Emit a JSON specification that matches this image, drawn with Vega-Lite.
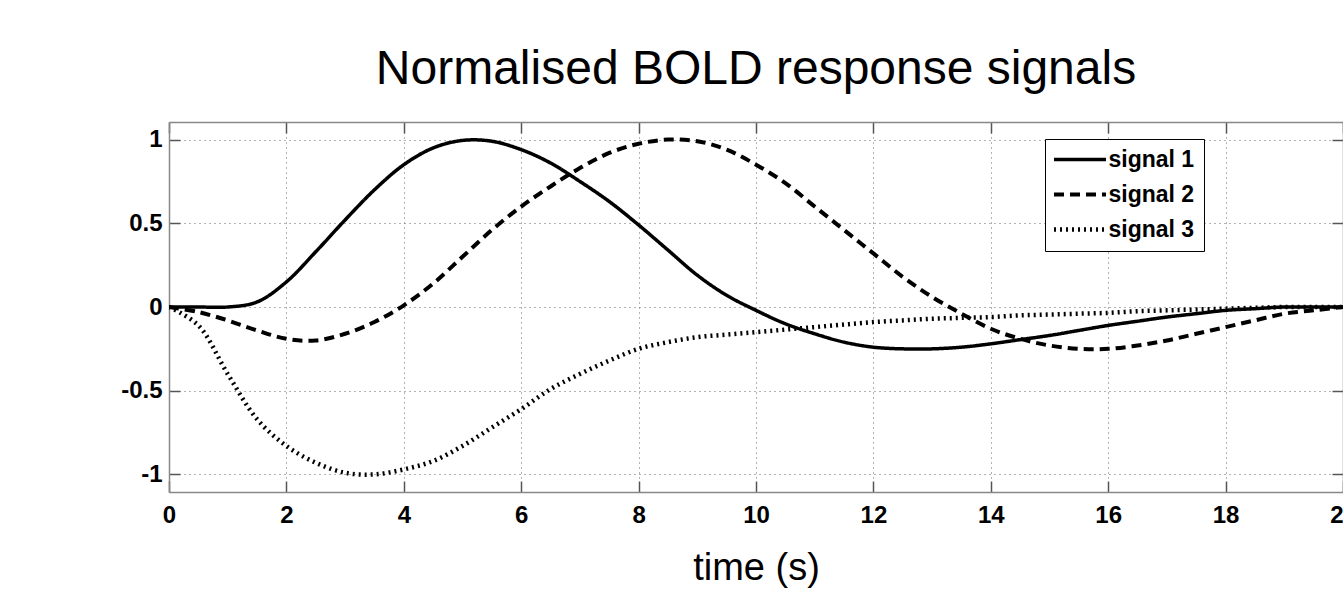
{
  "$schema": "https://vega.github.io/schema/vega-lite/v6.json",
  "autosize": {"type": "none"},
  "padding": {"left": 169, "top": 122, "right": 0, "bottom": 105},
  "width": 1174,
  "height": 370,
  "background": "white",
  "title": {
    "text": "Normalised BOLD response signals",
    "font": "Liberation Sans",
    "fontSize": 48,
    "fontWeight": "normal",
    "color": "black",
    "anchor": "middle",
    "baseline": "alphabetic",
    "frame": "group",
    "offset": -11
  },
  "config": {
    "font": "Liberation Sans",
    "view": {"stroke": null},
    "axis": {
      "domainColor": "#888888",
      "domainWidth": 1.5,
      "tickColor": "#555555",
      "tickWidth": 1.5,
      "tickSize": -11,
      "gridColor": "#666666",
      "gridDash": [1, 4],
      "gridWidth": 1,
      "labelFont": "Liberation Sans",
      "labelFontWeight": "bold",
      "labelFontSize": 24,
      "labelColor": "black"
    }
  },
  "data": {
    "values": [
      {"t": 0, "v": 0, "signal": "signal 1"}, {"t": 0.5, "v": 0, "signal": "signal 1"}, {"t": 1, "v": 0, "signal": "signal 1"}, {"t": 1.5, "v": 0.03, "signal": "signal 1"}, {"t": 2, "v": 0.15, "signal": "signal 1"}, {"t": 2.5, "v": 0.33, "signal": "signal 1"}, {"t": 3, "v": 0.52, "signal": "signal 1"}, {"t": 3.5, "v": 0.7, "signal": "signal 1"}, {"t": 4, "v": 0.85, "signal": "signal 1"}, {"t": 4.5, "v": 0.95, "signal": "signal 1"}, {"t": 5, "v": 0.995, "signal": "signal 1"}, {"t": 5.5, "v": 0.99, "signal": "signal 1"}, {"t": 6, "v": 0.94, "signal": "signal 1"}, {"t": 6.5, "v": 0.86, "signal": "signal 1"}, {"t": 7, "v": 0.75, "signal": "signal 1"}, {"t": 7.5, "v": 0.63, "signal": "signal 1"}, {"t": 8, "v": 0.49, "signal": "signal 1"}, {"t": 8.5, "v": 0.34, "signal": "signal 1"}, {"t": 9, "v": 0.19, "signal": "signal 1"}, {"t": 9.5, "v": 0.07, "signal": "signal 1"}, {"t": 10, "v": -0.02, "signal": "signal 1"}, {"t": 10.5, "v": -0.1, "signal": "signal 1"}, {"t": 11, "v": -0.16, "signal": "signal 1"}, {"t": 11.5, "v": -0.21, "signal": "signal 1"}, {"t": 12, "v": -0.24, "signal": "signal 1"}, {"t": 12.5, "v": -0.25, "signal": "signal 1"}, {"t": 13, "v": -0.25, "signal": "signal 1"}, {"t": 13.5, "v": -0.24, "signal": "signal 1"}, {"t": 14, "v": -0.22, "signal": "signal 1"}, {"t": 14.5, "v": -0.195, "signal": "signal 1"}, {"t": 15, "v": -0.17, "signal": "signal 1"}, {"t": 15.5, "v": -0.14, "signal": "signal 1"}, {"t": 16, "v": -0.11, "signal": "signal 1"}, {"t": 16.5, "v": -0.085, "signal": "signal 1"}, {"t": 17, "v": -0.06, "signal": "signal 1"}, {"t": 17.5, "v": -0.04, "signal": "signal 1"}, {"t": 18, "v": -0.02, "signal": "signal 1"}, {"t": 18.5, "v": -0.01, "signal": "signal 1"}, {"t": 19, "v": 0, "signal": "signal 1"}, {"t": 19.5, "v": 0, "signal": "signal 1"}, {"t": 20, "v": 0, "signal": "signal 1"},
      {"t": 0, "v": 0, "signal": "signal 2"}, {"t": 0.5, "v": -0.03, "signal": "signal 2"}, {"t": 1, "v": -0.08, "signal": "signal 2"}, {"t": 1.5, "v": -0.14, "signal": "signal 2"}, {"t": 2, "v": -0.19, "signal": "signal 2"}, {"t": 2.5, "v": -0.2, "signal": "signal 2"}, {"t": 3, "v": -0.16, "signal": "signal 2"}, {"t": 3.5, "v": -0.09, "signal": "signal 2"}, {"t": 4, "v": 0.01, "signal": "signal 2"}, {"t": 4.5, "v": 0.14, "signal": "signal 2"}, {"t": 5, "v": 0.3, "signal": "signal 2"}, {"t": 5.5, "v": 0.46, "signal": "signal 2"}, {"t": 6, "v": 0.6, "signal": "signal 2"}, {"t": 6.5, "v": 0.72, "signal": "signal 2"}, {"t": 7, "v": 0.83, "signal": "signal 2"}, {"t": 7.5, "v": 0.92, "signal": "signal 2"}, {"t": 8, "v": 0.975, "signal": "signal 2"}, {"t": 8.5, "v": 1.0, "signal": "signal 2"}, {"t": 9, "v": 0.99, "signal": "signal 2"}, {"t": 9.5, "v": 0.94, "signal": "signal 2"}, {"t": 10, "v": 0.85, "signal": "signal 2"}, {"t": 10.5, "v": 0.74, "signal": "signal 2"}, {"t": 11, "v": 0.6, "signal": "signal 2"}, {"t": 11.5, "v": 0.46, "signal": "signal 2"}, {"t": 12, "v": 0.32, "signal": "signal 2"}, {"t": 12.5, "v": 0.18, "signal": "signal 2"}, {"t": 13, "v": 0.06, "signal": "signal 2"}, {"t": 13.5, "v": -0.04, "signal": "signal 2"}, {"t": 14, "v": -0.13, "signal": "signal 2"}, {"t": 14.5, "v": -0.19, "signal": "signal 2"}, {"t": 15, "v": -0.23, "signal": "signal 2"}, {"t": 15.5, "v": -0.25, "signal": "signal 2"}, {"t": 16, "v": -0.25, "signal": "signal 2"}, {"t": 16.5, "v": -0.23, "signal": "signal 2"}, {"t": 17, "v": -0.2, "signal": "signal 2"}, {"t": 17.5, "v": -0.16, "signal": "signal 2"}, {"t": 18, "v": -0.12, "signal": "signal 2"}, {"t": 18.5, "v": -0.08, "signal": "signal 2"}, {"t": 19, "v": -0.04, "signal": "signal 2"}, {"t": 19.5, "v": -0.02, "signal": "signal 2"}, {"t": 20, "v": 0, "signal": "signal 2"},
      {"t": 0, "v": 0, "signal": "signal 3"}, {"t": 0.5, "v": -0.11, "signal": "signal 3"}, {"t": 1, "v": -0.4, "signal": "signal 3"}, {"t": 1.5, "v": -0.67, "signal": "signal 3"}, {"t": 2, "v": -0.83, "signal": "signal 3"}, {"t": 2.5, "v": -0.93, "signal": "signal 3"}, {"t": 3, "v": -0.99, "signal": "signal 3"}, {"t": 3.5, "v": -1.0, "signal": "signal 3"}, {"t": 4, "v": -0.97, "signal": "signal 3"}, {"t": 4.5, "v": -0.92, "signal": "signal 3"}, {"t": 5, "v": -0.83, "signal": "signal 3"}, {"t": 5.5, "v": -0.72, "signal": "signal 3"}, {"t": 6, "v": -0.61, "signal": "signal 3"}, {"t": 6.5, "v": -0.49, "signal": "signal 3"}, {"t": 7, "v": -0.4, "signal": "signal 3"}, {"t": 7.5, "v": -0.32, "signal": "signal 3"}, {"t": 8, "v": -0.25, "signal": "signal 3"}, {"t": 8.5, "v": -0.21, "signal": "signal 3"}, {"t": 9, "v": -0.18, "signal": "signal 3"}, {"t": 9.5, "v": -0.165, "signal": "signal 3"}, {"t": 10, "v": -0.15, "signal": "signal 3"}, {"t": 10.5, "v": -0.135, "signal": "signal 3"}, {"t": 11, "v": -0.12, "signal": "signal 3"}, {"t": 11.5, "v": -0.105, "signal": "signal 3"}, {"t": 12, "v": -0.09, "signal": "signal 3"}, {"t": 12.5, "v": -0.08, "signal": "signal 3"}, {"t": 13, "v": -0.07, "signal": "signal 3"}, {"t": 13.5, "v": -0.065, "signal": "signal 3"}, {"t": 14, "v": -0.06, "signal": "signal 3"}, {"t": 14.5, "v": -0.05, "signal": "signal 3"}, {"t": 15, "v": -0.045, "signal": "signal 3"}, {"t": 15.5, "v": -0.04, "signal": "signal 3"}, {"t": 16, "v": -0.035, "signal": "signal 3"}, {"t": 16.5, "v": -0.025, "signal": "signal 3"}, {"t": 17, "v": -0.02, "signal": "signal 3"}, {"t": 17.5, "v": -0.015, "signal": "signal 3"}, {"t": 18, "v": -0.01, "signal": "signal 3"}, {"t": 18.5, "v": -0.005, "signal": "signal 3"}, {"t": 19, "v": 0, "signal": "signal 3"}, {"t": 19.5, "v": 0, "signal": "signal 3"}, {"t": 20, "v": 0, "signal": "signal 3"}
    ]
  },
  "layer": [
    {
      "mark": {"type": "line", "color": "black", "interpolate": "catmull-rom", "clip": true},
      "encoding": {
        "x": {
          "field": "t", "type": "quantitative",
          "scale": {"domain": [0, 20], "nice": false, "zero": false},
          "axis": {
            "orient": "bottom",
            "values": [0, 2, 4, 6, 8, 10, 12, 14, 16, 18, 20],
            "format": "d",
            "grid": true,
            "labelPadding": 22,
            "labelFlush": false,
            "title": "time (s)",
            "titleFont": "Liberation Sans",
            "titleFontSize": 38,
            "titleFontWeight": "normal",
            "titleColor": "black",
            "titleBaseline": "alphabetic",
            "titleY": 87
          }
        },
        "y": {
          "field": "v", "type": "quantitative",
          "scale": {"domain": [-1.105, 1.105], "nice": false, "zero": false},
          "axis": {
            "orient": "left",
            "values": [-1, -0.5, 0, 0.5, 1],
            "labelExpr": "'' + datum.value",
            "grid": true,
            "labelPadding": 18,
            "labelFlush": false,
            "title": null
          }
        },
        "strokeWidth": {
          "field": "signal", "type": "nominal",
          "scale": {"domain": ["signal 1", "signal 2", "signal 3"], "range": [3.5, 4.5, 3]},
          "legend": null
        },
        "strokeDash": {
          "field": "signal", "type": "nominal",
          "scale": {"domain": ["signal 1", "signal 2", "signal 3"], "range": [[1, 0], [10, 6], [2, 4]]},
          "legend": {
            "title": null,
            "orient": "none",
            "legendX": 876,
            "legendY": 17,
            "direction": "vertical",
            "fillColor": "white",
            "strokeColor": "black",
            "padding": 9,
            "rowPadding": 11,
            "symbolType": "M-4,0H4",
            "symbolSize": 169,
            "symbolStrokeWidth": 3.5,
            "symbolStrokeColor": "black",
            "symbolOffset": 14.5,
            "labelOffset": 17,
            "labelFont": "Liberation Sans",
            "labelFontWeight": "bold",
            "labelFontSize": 23,
            "labelColor": "black",
            "labelBaseline": "middle"
          }
        }
      }
    },
    {
      "mark": {"type": "line", "opacity": 0},
      "encoding": {
        "x": {
          "field": "t", "type": "quantitative",
          "axis": {"orient": "top", "values": [0, 2, 4, 6, 8, 10, 12, 14, 16, 18, 20], "labels": false, "grid": false, "title": null}
        },
        "y": {
          "field": "v", "type": "quantitative",
          "axis": {"orient": "right", "values": [-1, -0.5, 0, 0.5, 1], "labels": false, "grid": false, "title": null}
        },
        "detail": {"field": "signal"}
      }
    }
  ],
  "resolve": {"axis": {"x": "independent", "y": "independent"}}
}
